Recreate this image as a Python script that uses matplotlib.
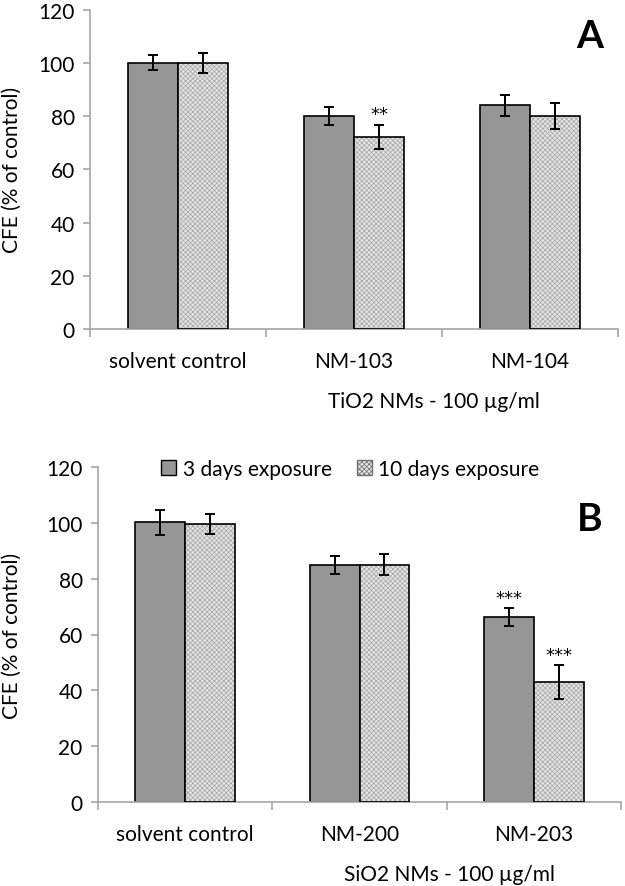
import matplotlib
matplotlib.use("Agg")
import matplotlib.pyplot as plt
import numpy as np
from matplotlib.patches import Patch

plt.rcParams['font.family'] = ['Lato', 'DejaVu Sans']
plt.rcParams['hatch.linewidth'] = 0.5

# ---- data ----
cats_a = ["solvent control", "NM-103", "NM-104"]
a_3d = [100, 80, 84]
a_3d_err = [2.8, 3.3, 4.0]
a_10d = [100, 72.3, 80]
a_10d_err = [3.8, 4.5, 5.0]
a_sig_10d = ["", "**", ""]
a_sig_3d = ["", "", ""]

cats_b = ["solvent control", "NM-200", "NM-203"]
b_3d = [100.2, 85, 66.3]
b_3d_err = [4.5, 3.2, 3.1]
b_10d = [99.5, 85, 43]
b_10d_err = [3.5, 3.8, 6.0]
b_sig_3d = ["", "", "***"]
b_sig_10d = ["", "", "***"]

legend_labels = ["3 days exposure", "10 days exposure"]
ylabel = "CFE (% of control)"
yticks = [0, 20, 40, 60, 80, 100, 120]

W, H = 625, 887
fig = plt.figure(figsize=(W / 100, H / 100), dpi=100)

def px_axes(left, top, right, bottom):
    return fig.add_axes([left / W, 1 - bottom / H, (right - left) / W, (bottom - top) / H])

dark = "#969696"
light = "#e2e2e2"
hatchcol = "#a8a8a8"
axcol = "#a6a6a6"
bw = 0.285
FS = 15

def panel(ax, cats, v3, e3, v10, e10, s3, s10, letter, lpos):
    x = np.arange(len(cats))
    ax.bar(x - bw / 2, v3, bw, color=dark, edgecolor="black", linewidth=1.2, zorder=2)
    ax.bar(x + bw / 2, v10, bw, color=light, edgecolor=hatchcol, hatch="xxxxxxx", linewidth=0, zorder=2)
    ax.bar(x + bw / 2, v10, bw, fill=False, edgecolor="black", linewidth=1.2, zorder=3)
    ax.errorbar(x - bw / 2, v3, yerr=e3, fmt="none", ecolor="black", elinewidth=1.4,
                capsize=3.5, capthick=1.4, zorder=4)
    ax.errorbar(x + bw / 2, v10, yerr=e10, fmt="none", ecolor="black", elinewidth=1.4,
                capsize=3.5, capthick=1.4, zorder=4)
    for i in range(len(cats)):
        if s3[i]:
            ax.annotate(s3[i], (x[i] - bw / 2, v3[i] + e3[i]), xytext=(0, 1),
                        textcoords="offset points", ha="center", va="bottom",
                        fontsize=13, family="DejaVu Sans")
        if s10[i]:
            ax.annotate(s10[i], (x[i] + bw / 2, v10[i] + e10[i]), xytext=(0, 1),
                        textcoords="offset points", ha="center", va="bottom",
                        fontsize=13, family="DejaVu Sans")
    ax.set_xlim(-0.5, len(cats) - 0.5)
    ax.set_ylim(0, 120)
    ax.set_yticks(yticks)
    ax.set_xticks(np.arange(len(cats) + 1) - 0.5)
    ax.set_xticklabels([])
    ax.set_xticks(x, minor=True)
    ax.set_xticklabels(cats, minor=True, fontsize=FS)
    ax.tick_params(axis="x", which="minor", length=0, pad=16)
    ax.tick_params(axis="x", which="major", length=6, color=axcol, width=1.2, direction="out")
    ax.tick_params(axis="y", length=5, color=axcol, width=1.2, labelsize=FS, pad=6)
    for s in ["top", "right"]:
        ax.spines[s].set_visible(False)
    for s in ["left", "bottom"]:
        ax.spines[s].set_color(axcol)
        ax.spines[s].set_linewidth(1.2)
    ax.set_ylabel(ylabel, fontsize=FS)
    ax.text(lpos[0], lpos[1], letter, transform=ax.transAxes, fontsize=28, fontweight="bold",
            ha="center", va="center")

axA = px_axes(90, 10.7, 618, 330)
panel(axA, cats_a, a_3d, a_3d_err, a_10d, a_10d_err, a_sig_3d, a_sig_10d, "A", (0.947, 0.92))
axA.yaxis.set_label_coords(-68 / 528, 0.5)

axB = px_axes(98, 468, 621, 803)
panel(axB, cats_b, b_3d, b_3d_err, b_10d, b_10d_err, b_sig_3d, b_sig_10d, "B", (0.941, 0.845))
axB.yaxis.set_label_coords(-76 / 523, 0.5)

fig.text(434 / W, 1 - 402 / H, "TiO2 NMs - 100 µg/ml", ha="center", va="center", fontsize=FS)
fig.text(450 / W, 1 - 875 / H, "SiO2 NMs - 100 µg/ml", ha="center", va="center", fontsize=FS)

handles = [Patch(facecolor=dark, edgecolor="black", linewidth=1.0),
           Patch(facecolor=light, edgecolor="#707070", hatch="xxxxxxx", linewidth=1.0)]
axB.legend(handles, legend_labels, loc="center", bbox_to_anchor=(0.482, 0.995), ncol=2,
           frameon=False, fontsize=FS, handlelength=0.75, handleheight=0.75,
           handletextpad=0.3, columnspacing=1.2, borderpad=0)

fig.savefig("out.png", dpi=100)
